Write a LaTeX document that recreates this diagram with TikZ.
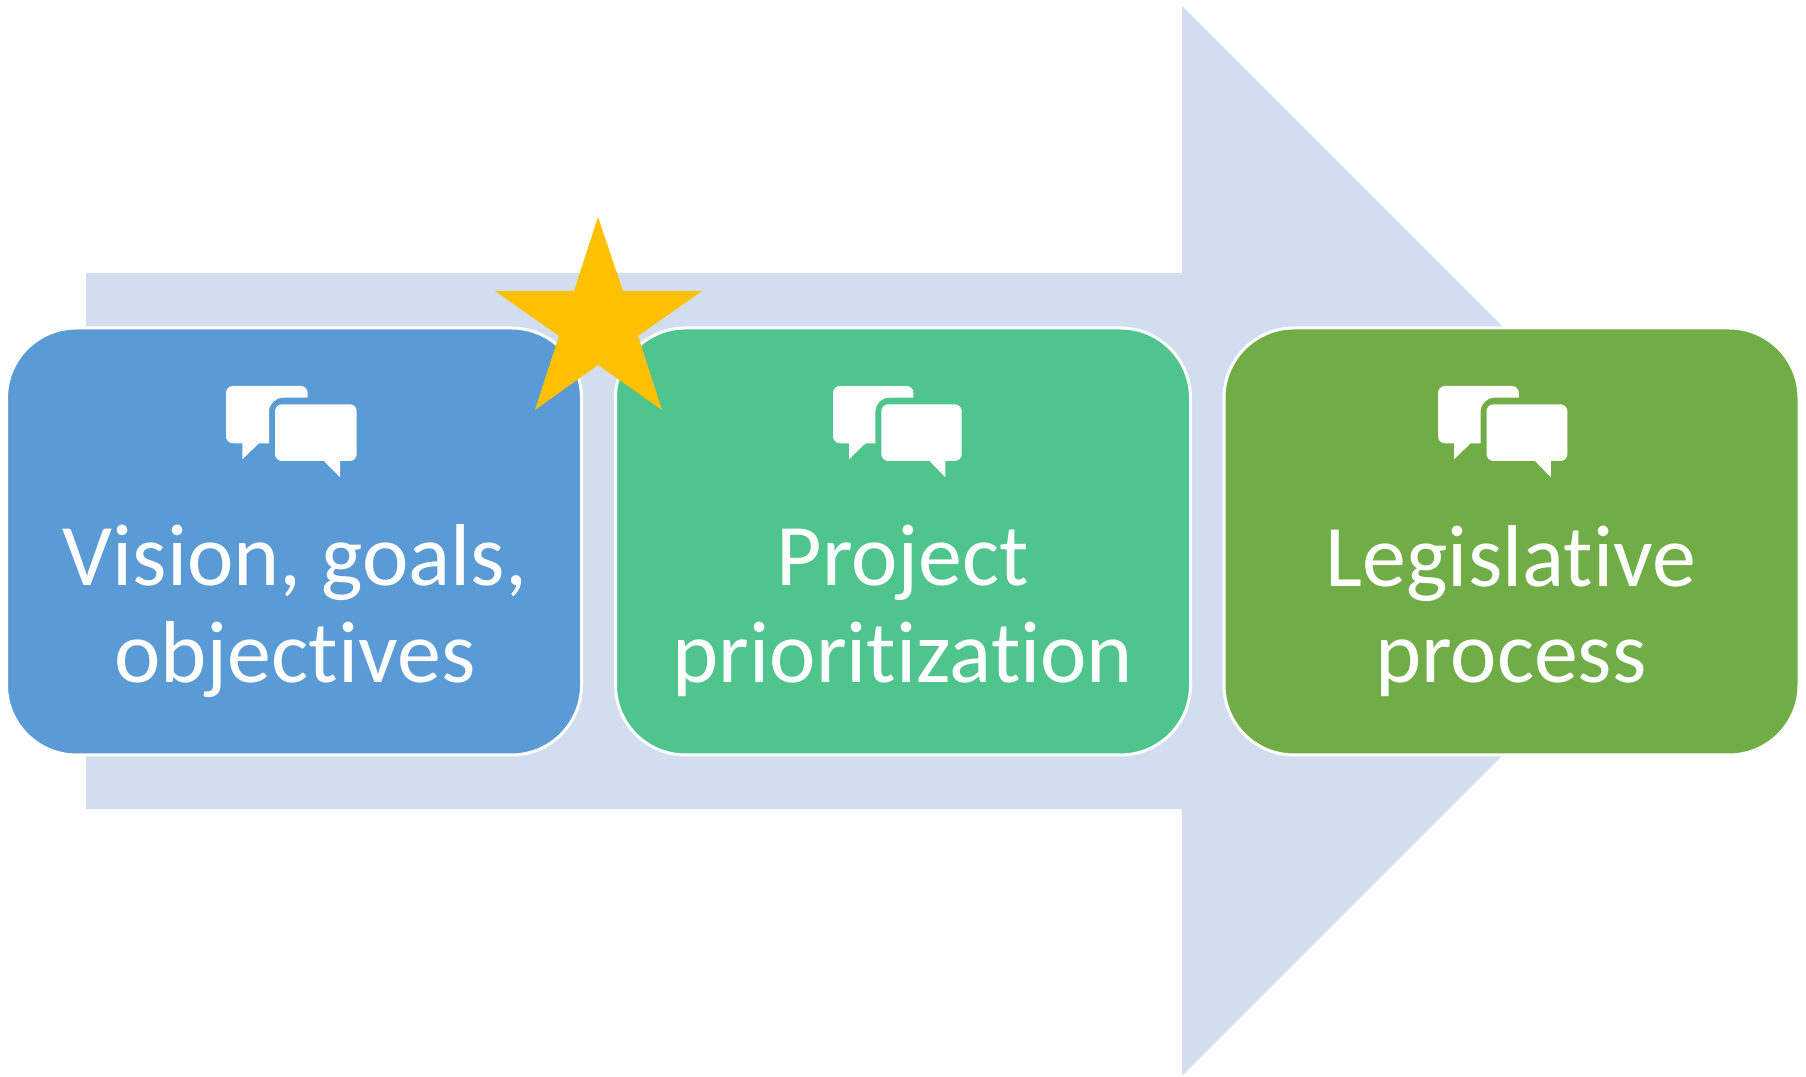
\documentclass[tikz,border=0pt]{standalone}
\usepackage{fontspec}
\setmainfont[Ligatures=NoCommon]{Carlito}
\usetikzlibrary{positioning}
\definecolor{arrowblue}{HTML}{D2DEEF}
\definecolor{visionblue}{HTML}{5B9BD5}
\definecolor{projectgreen}{HTML}{4FC48D}
\definecolor{legislgreen}{HTML}{70AD47}
\definecolor{stargold}{HTML}{FFC000}
\tikzset{
	stagebox/.style={draw=white, line width=0.03cm, rounded corners=0.7cm, minimum width=5.75cm, minimum height=4.27cm, inner sep=0},
	stagelabel/.style={text=white, align=center, font=\fontsize{25}{27.5}\selectfont, inner sep=0}
}
\def\chaticon(#1,#2,#3){
	\fill[white, shift={(#1,#2)}, xscale=#3, rounded corners=0.07cm] (0.817,0) [sharp corners] -- (0.817,-0.117) -- (0.57,-0.117) arc (90:180:0.14) -- (0.43,-0.573) -- (0.33,-0.573) -- (0.163,-0.733) -- (0.163,-0.573) [rounded corners=0.07cm] -- (0,-0.573) -- (0,0) -- cycle;
	\fill[white, shift={(#1,#2)}, xscale=#3, rounded corners=0.07cm] (0.49,-0.183) -- (1.307,-0.183) -- (1.307,-0.75) [sharp corners] -- (1.14,-0.75) -- (1.14,-0.913) -- (0.98,-0.75) [rounded corners=0.07cm] -- (0.49,-0.75) -- cycle;
}

\begin{document}
\begin{tikzpicture}
		%%%%% START %%%%%
		
		\useasboundingbox (0, 0) rectangle (18.06, 10.77);
		
		\fill[arrowblue] (0.86, 8.04) -- (11.82, 8.04) -- (11.82, 10.71) -- (17.17, 5.36) -- (11.82, 0.01) -- (11.82, 2.68) -- (0.86, 2.68) -- cycle;
		
		\node[stagebox, fill=visionblue] (vision) at (2.94, 5.355) {};
		\node[stagebox, fill=projectgreen] (project) at (9.03, 5.355) {};
		\node[stagebox, fill=legislgreen] (legislative) at (15.115, 5.355) {};
		
		\chaticon(2.26, 6.91, 1)
		\chaticon(8.33, 6.91, 0.985)
		\chaticon(14.38, 6.91, 0.99)
		
		\node[stagelabel] (visionlabel) at (2.95, 4.66) {Vision, goals,\\objectives};
		\node[stagelabel] (projectlabel) at (9.03, 4.66) {Project\\prioritization};
		\node[stagelabel] (legislativelabel) at (15.11, 4.66) {Legislative\\process};
		
		\fill[stargold] (5.98, 8.60) -- (6.23, 7.86) -- (7.02, 7.86) -- (6.38, 7.41) -- (6.62, 6.67) -- (5.98, 7.12) -- (5.35, 6.67) -- (5.59, 7.41) -- (4.95, 7.86) -- (5.74, 7.86) -- cycle;
		
		%%%%% END %%%%%
	\end{tikzpicture}
\end{document}
